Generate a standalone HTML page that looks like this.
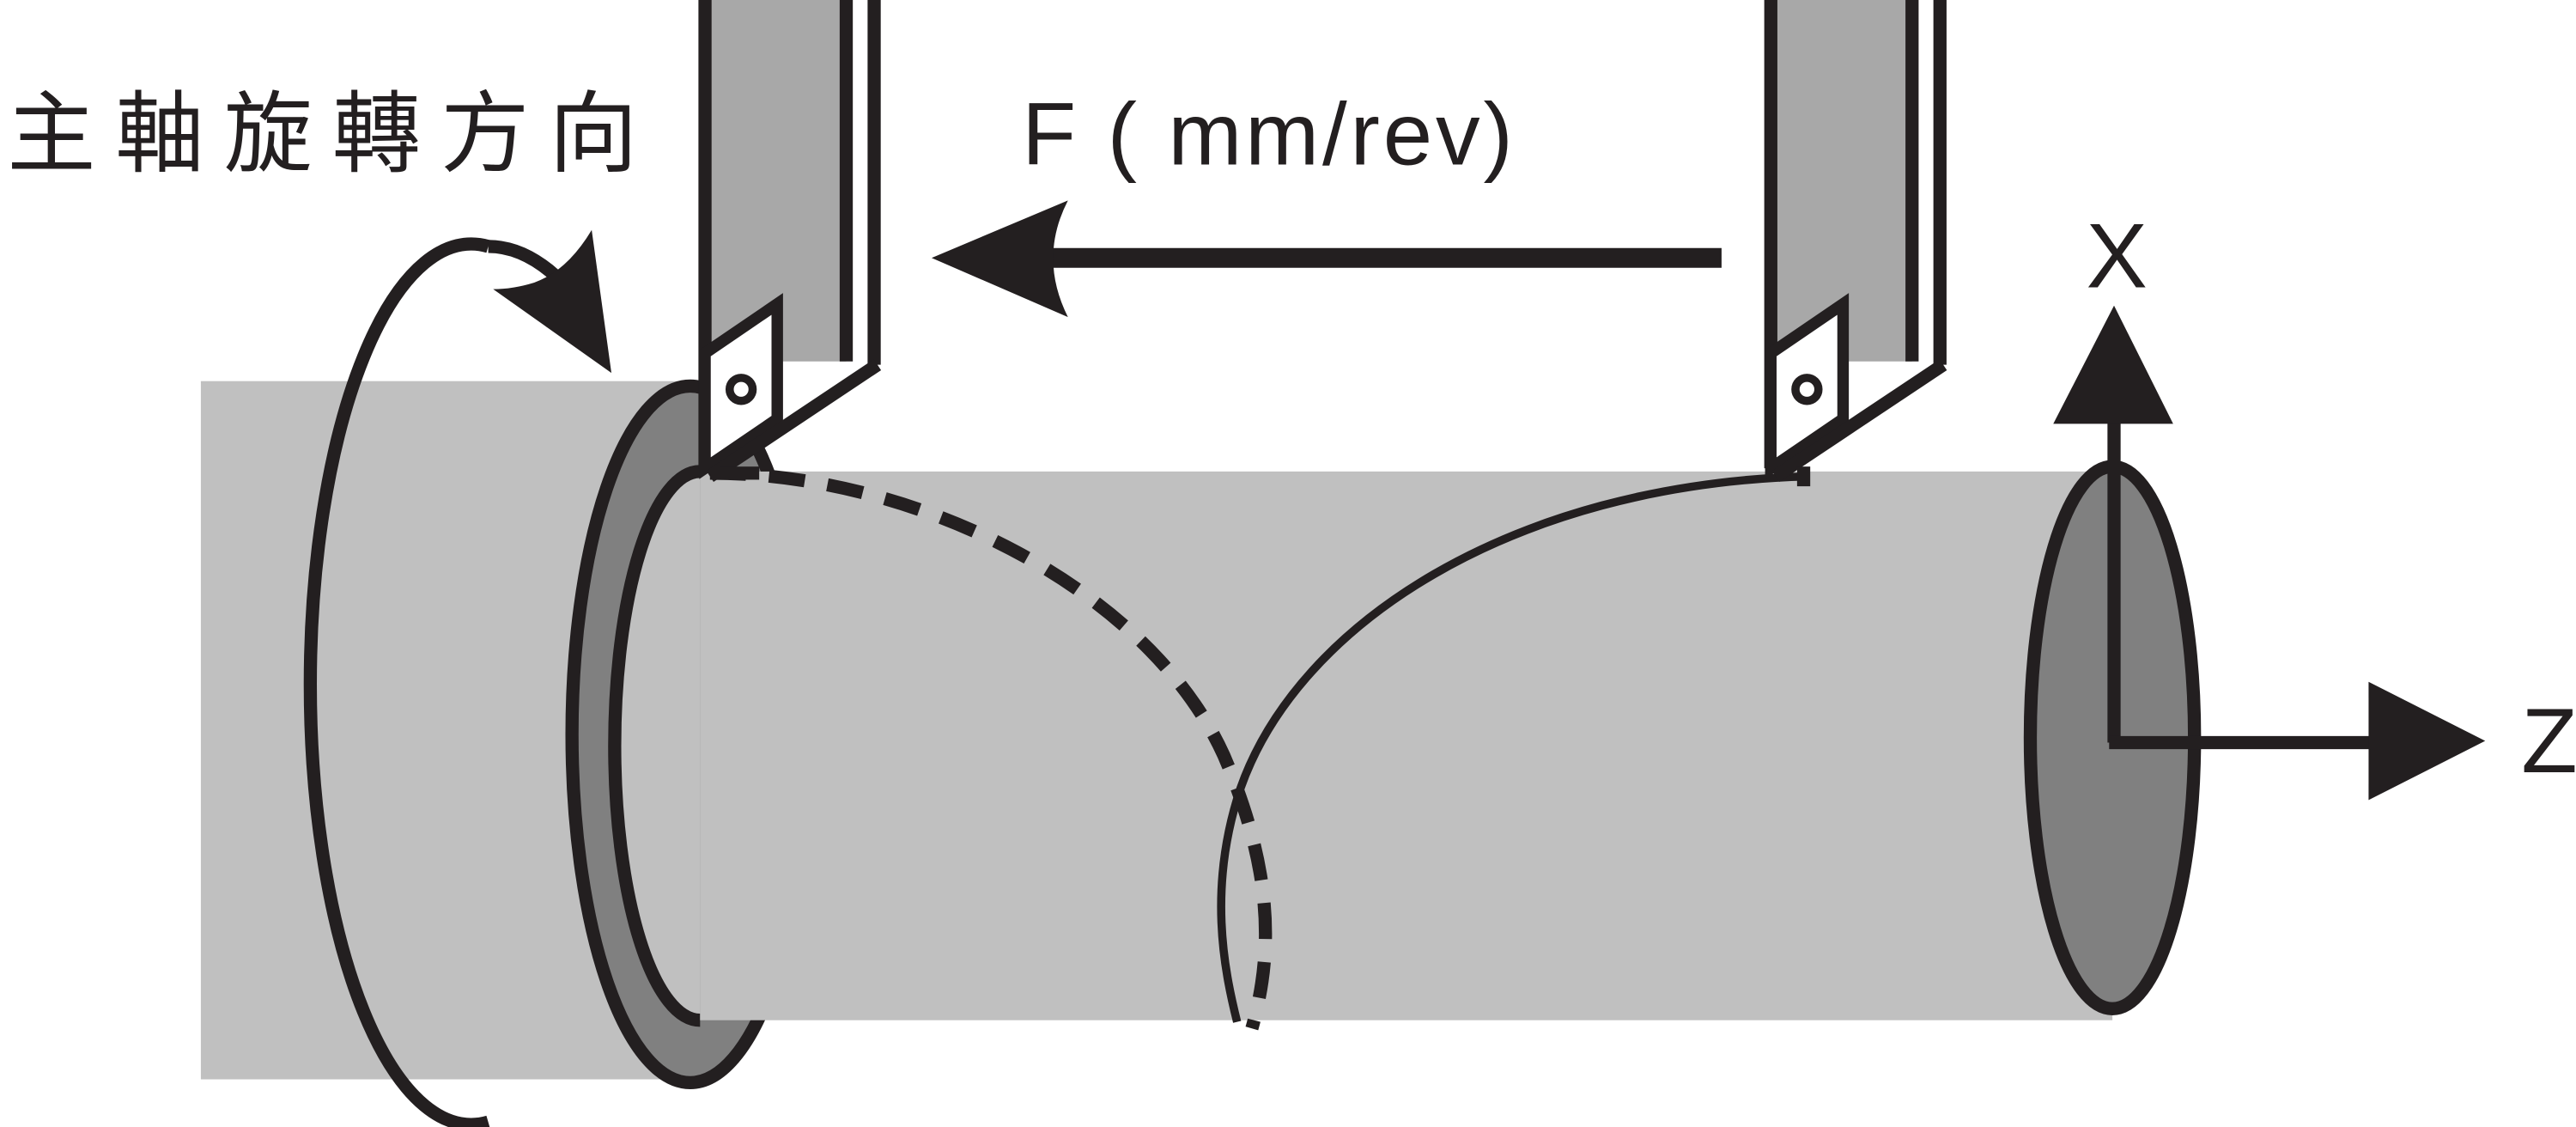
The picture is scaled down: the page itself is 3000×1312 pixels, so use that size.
<!DOCTYPE html>
<html><head><meta charset="utf-8"><style>
html,body{margin:0;padding:0;background:#fff;}
svg{display:block;}
</style></head><body>
<svg width="3000" height="1312" viewBox="0 0 1568 686" xmlns="http://www.w3.org/2000/svg">
<rect x="0" y="0" width="1568" height="686" fill="#fff"/>
<rect x="122" y="232" width="300" height="425" fill="#c0c0c0"/>
<!-- left end outer ellipse -->
<ellipse cx="420" cy="447" rx="72" ry="212" fill="#808080" stroke="#231f20" stroke-width="8"/>
<!-- inner ellipse left half -->
<path d="M426,287 A52,167 0 0 0 426,621" fill="#c0c0c0" stroke="#231f20" stroke-width="8"/>
<!-- main cylinder body -->
<rect x="426" y="287" width="860" height="334" fill="#c0c0c0"/>
<!-- right end ellipse -->
<ellipse cx="1286" cy="449" rx="50" ry="165" fill="#808080" stroke="#231f20" stroke-width="8"/>
<!-- rotation arrow -->
<path d="M297,150 A98,268 0 1 0 297,683" fill="none" stroke="#231f20" stroke-width="8"/>
<path d="M297,150 Q318,150 338,168" fill="none" stroke="#231f20" stroke-width="8"/>
<path d="M300,176 L372,227 L360,140 Q345,165 325,172 Q312,176 300,176 Z" fill="#231f20"/>
<!-- dashed curve -->
<path d="M432,288 C560,288 700,360 745,460 C775,530 775,580 762,626" fill="none" stroke="#231f20" stroke-width="8" stroke-dasharray="22,14"/>
<!-- solid curve -->
<path d="M1100,290 C920,295 790,380 755,480 C735,540 745,590 753,622" fill="none" stroke="#231f20" stroke-width="5"/>
<!-- left tool -->
<rect x="429" y="0" width="86" height="220" fill="#a8a8a8"/>
<path d="M429,0 V285 M515,0 V220 M532,0 V222" stroke="#231f20" stroke-width="8" fill="none"/>
<path d="M429,215 L473,185 L473,255 L429,285 Z" fill="#fff" stroke="#231f20" stroke-width="7"/>
<path d="M432,290 L534,222" stroke="#231f20" stroke-width="8"/>
<circle cx="451" cy="237" r="7" fill="none" stroke="#231f20" stroke-width="5"/>
<rect x="438" y="284" width="24" height="8" fill="#231f20"/>
<!-- right tool -->
<rect x="1078" y="0" width="86" height="220" fill="#a8a8a8"/>
<path d="M1078,0 V285 M1164,0 V220 M1181,0 V222" stroke="#231f20" stroke-width="8" fill="none"/>
<path d="M1078,215 L1122,185 L1122,255 L1078,285 Z" fill="#fff" stroke="#231f20" stroke-width="7"/>
<path d="M1081,290 L1183,222" stroke="#231f20" stroke-width="8"/>
<circle cx="1100" cy="237" r="7" fill="none" stroke="#231f20" stroke-width="5"/>
<rect x="1094" y="284" width="8" height="12" fill="#231f20"/>
<!-- F arrow -->
<path d="M1048,157 L640,157" stroke="#231f20" stroke-width="12"/>
<path d="M567,157 L650,122 Q632,157 650,193 Z" fill="#231f20"/>
<text x="622" y="100" font-family="Liberation Sans, DejaVu Sans, sans-serif" font-size="54" fill="#231f20" letter-spacing="2">F ( mm/rev)</text>
<text x="4" y="100" font-family="Liberation Sans, 'Noto Sans CJK TC', sans-serif" font-size="54" fill="#231f20" letter-spacing="12">主軸旋轉方向</text>
<!-- axes -->
<path d="M1287,452 V255" stroke="#231f20" stroke-width="8"/>
<path d="M1287,186 L1250,258 L1323,258 Z" fill="#231f20"/>
<path d="M1284,452 H1445" stroke="#231f20" stroke-width="8"/>
<path d="M1513,451 L1442,415 L1442,487 Z" fill="#231f20"/>
<text x="1270" y="175" font-family="Liberation Sans, sans-serif" font-size="56" fill="#231f20">X</text>
<text x="1535" y="470" font-family="Liberation Sans, sans-serif" font-size="56" fill="#231f20">Z</text>
</svg>
</body></html>
